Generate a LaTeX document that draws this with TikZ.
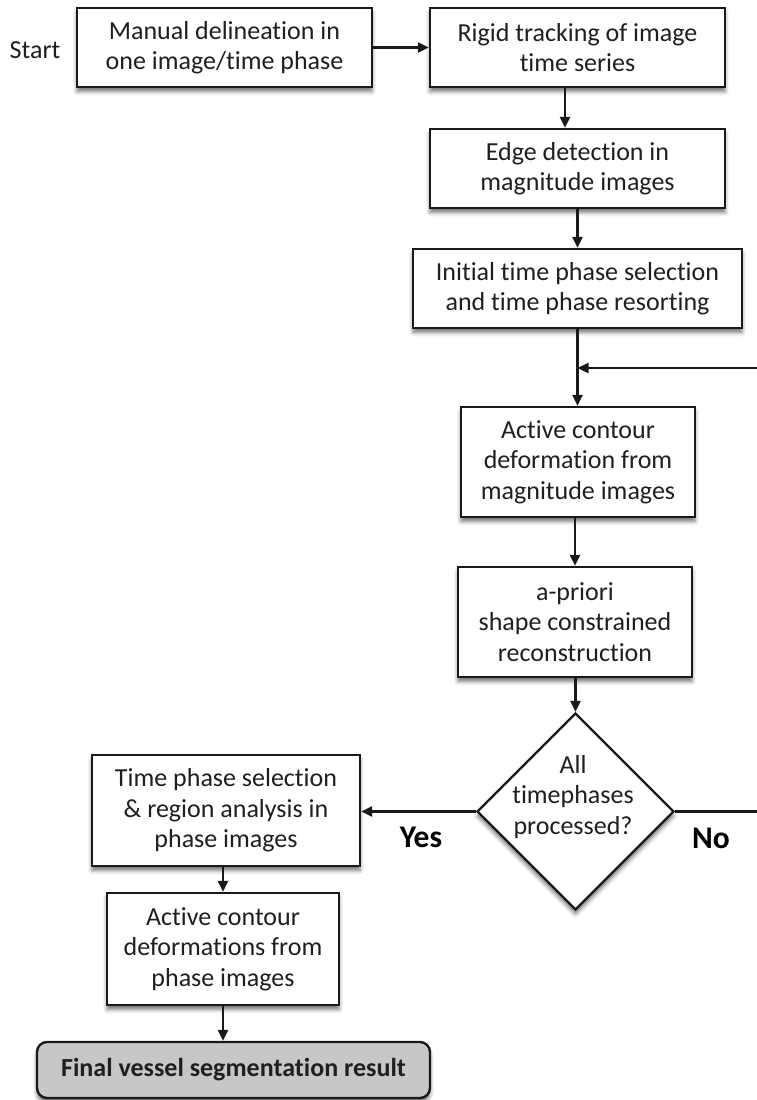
\documentclass[tikz,border=0pt]{standalone}
\usepackage{fontspec}
\setmainfont{Carlito}[Ligatures=NoCommon]
\usetikzlibrary{arrows.meta,shapes.geometric,shadows.blur}
\begin{document}
\begin{tikzpicture}[x=1pt,y=-1pt,
  boxshadow/.style={blur shadow={shadow xshift=0pt, shadow yshift=-4.5pt,
      shadow blur radius=4pt, shadow opacity=55}},
  stepbox/.style={draw=black!90, line width=2.4pt, fill=white, inner sep=0pt,
      align=center, text=black!88, font=\fontsize{26}{30.5}\selectfont, boxshadow},
  decision/.style={diamond, draw=black!90, line width=2.4pt, fill=white,
      inner sep=0pt, boxshadow},
  endbox/.style={stepbox, rounded corners=10pt, fill=black!22,
      font=\fontsize{26}{30}\selectfont\bfseries},
  plain/.style={align=center, text=black!88, inner sep=0pt,
      font=\fontsize{26}{30.5}\selectfont},
  branch/.style={text=black, inner sep=0pt, font=\fontsize{31.5}{36}\selectfont\bfseries},
  arr/.style={draw=black!90, line width=2.4pt, -{Triangle[length=11pt,width=10pt]}}]

\useasboundingbox (0,0) rectangle (756,1100);

% process steps
\node[plain] (start) at (35,50) {Start};
\node[stepbox, minimum width=295pt, minimum height=79pt] (manual) at (224.5,47.5)
  {Manual delineation in\\one image/time phase};
\node[stepbox, minimum width=295pt, minimum height=79pt] (rigid) at (577.5,47.5)
  {Rigid tracking of image\\time series};
\node[stepbox, minimum width=295pt, minimum height=79pt] (edge) at (577.5,168.5)
  {Edge detection in\\magnitude images};
\node[stepbox, minimum width=329pt, minimum height=79pt] (init) at (577.5,288.5)
  {Initial time phase selection\\and time phase resorting};
\node[stepbox, minimum width=234pt, minimum height=110pt] (acmag) at (578,462)
  {Active contour\\deformation from\\magnitude images};
\node[stepbox, minimum width=234pt, minimum height=110pt] (prior) at (575,622)
  {a-priori\\shape constrained\\reconstruction};
\node[decision, minimum width=197pt, minimum height=197pt] (check) at (575.5,811.5) {};
\node[plain] (checktext) at (573,797) {All\\timephases\\processed?};
\node[stepbox, minimum width=268pt, minimum height=111pt] (select) at (226,810.5)
  {Time phase selection\\\& region analysis in\\phase images};
\node[stepbox, minimum width=232pt, minimum height=112pt] (acphase) at (223,949)
  {Active contour\\deformations from\\phase images};
\node[endbox, minimum width=393pt, minimum height=56pt] (final) at (233.5,1070)
  {Final vessel segmentation result};

% branch labels
\node[branch] (yes) at (421,837) {Yes};
\node[branch] (no) at (711,838) {No};

% loop entry point
\coordinate (merge) at (577.5,368);

% connectors
\draw[arr] (manual.east) -- (rigid.west);
\draw[arr] ([xshift=-12.5pt]rigid.south) -- ([xshift=-12.5pt]rigid.south |- edge.north);
\draw[arr] (edge.south) -- (edge.south |- init.north);
\draw[arr] (init.south) -- (init.south |- acmag.north);
\draw[arr] (acmag.south -| prior.north) -- (prior.north);
\draw[arr] (prior.south) -- (prior.south -| check.north) -- (check.north);
\draw[arr] (check.west) -- (check.west -| select.east);
\draw[arr] (check.east) -- ++(140,0) |- (merge);
\draw[arr] (acphase.north |- select.south) -- (acphase.north);
\draw[arr] (acphase.south) -- (acphase.south |- final.north);
\end{tikzpicture}
\end{document}
